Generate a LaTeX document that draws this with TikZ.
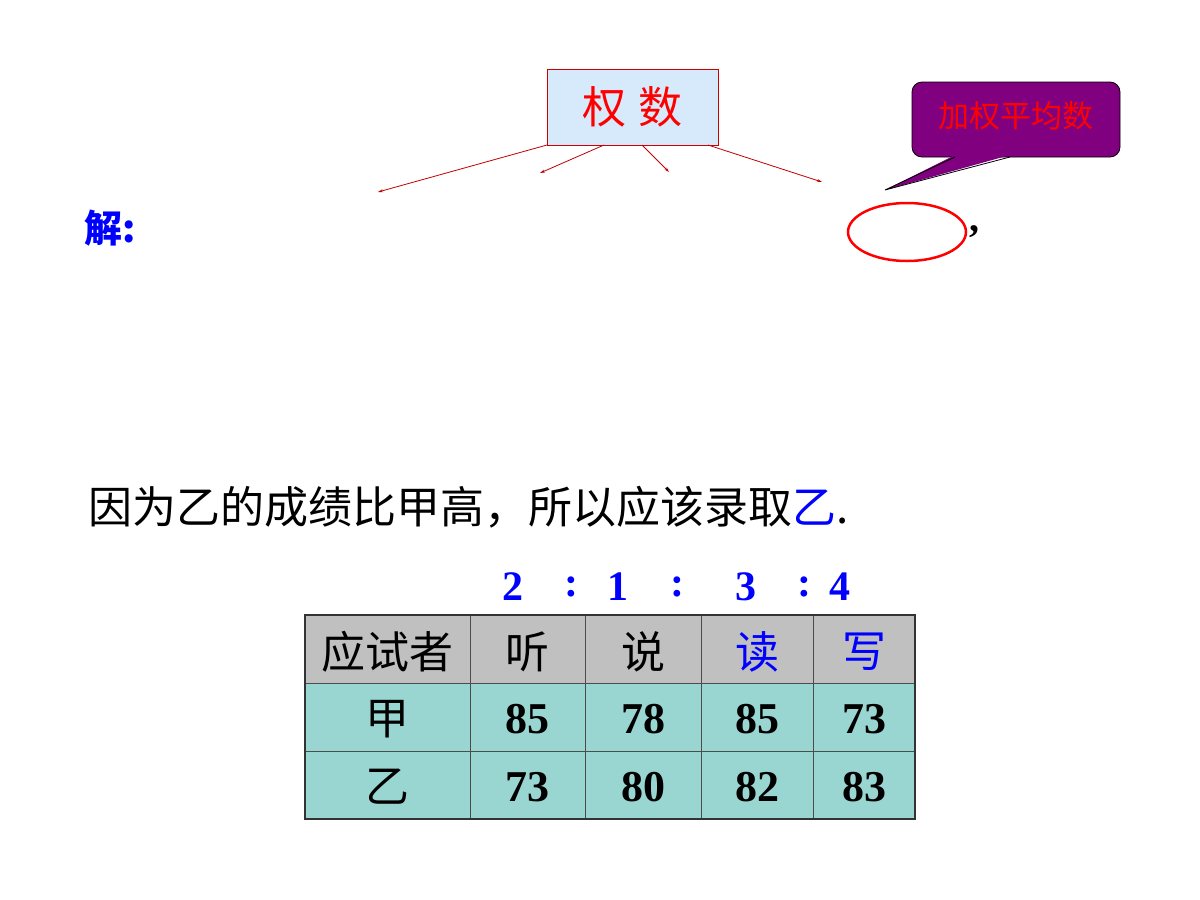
\documentclass[tikz,border=0pt]{standalone}
\usepackage{fontspec}
\setmainfont{Liberation Serif}
\newfontfamily\cjk{Noto Sans CJK SC}
\usetikzlibrary{arrows.meta,shapes.geometric}
\definecolor{hdr}{RGB}{192,192,192}
\definecolor{body}{RGB}{153,214,210}
\definecolor{lblue}{RGB}{214,234,251}
\definecolor{purp}{RGB}{128,0,128}
\begin{document}
\begin{tikzpicture}[x=1pt,y=-1pt,
  cell/.style={draw=black!70,line width=1pt},
  arr/.style={draw=red!75!black,line width=0.8pt,-{Stealth[length=5pt,width=3pt]}},
  cj/.style={font=\cjk\fontsize{44}{46}\selectfont},
  num/.style={font=\bfseries\fontsize{44}{46}\selectfont},
  rat/.style={font=\bfseries\fontsize{42}{44}\selectfont,text=blue}]
\useasboundingbox (0,0) rectangle (1200,900);
% title box
\node[draw=red!80!black,fill=lblue,minimum width=171pt,minimum height=76pt,inner sep=0pt,font=\cjk\fontsize{44}{46}\selectfont,text=red] (qs) at (632.5,107) {权\hspace{12pt}数};
\coordinate (a1) at (378,192);
\coordinate (a2) at (540,173);
\coordinate (a3) at (669,172);
\coordinate (a4) at (822,182);
\draw[arr] (547,145) -- (a1);
\draw[arr] (604,145) -- (a2);
\draw[arr] (642,145) -- (a3);
\draw[arr] (708,145) -- (a4);
% callout
\coordinate (tip) at (885,190);
\draw[fill=purp,draw=black,line width=0.8pt,rounded corners=10pt] (912,82) rectangle (1120,157);
\fill[purp] (955,155) -- (tip) -- (1010,155) -- cycle;
\draw[black,line width=0.8pt] (955,157) -- (tip) -- (1010,157);
\node[font=\cjk\fontsize{31}{33}\selectfont,text=red] (cl) at (1016,116) {加权平均数};
% ellipse
\node[draw=red,line width=2.5pt,ellipse,minimum width=118pt,minimum height=58pt] (el) at (907,232) {};
\node[font=\bfseries\fontsize{40}{42}\selectfont,anchor=west] (cm) at (966,232) {,};
% jie
\node[font=\cjk\bfseries\fontsize{38}{40}\selectfont,text=blue,anchor=west,inner sep=0pt] (jie) at (84,228) {解:};
% sentence
\node[font=\cjk\fontsize{44}{48}\selectfont,anchor=west,inner sep=0pt] (sen) at (88,507) {因为乙的成绩比甲高，所以应该录取{\color{blue}乙}.};
% ratio
\node[rat] (r1) at (513,587) {2};
\node[rat] (c1) at (571,587) {:};
\node[rat] (r2) at (618,587) {1};
\node[rat] (c2) at (677,587) {:};
\node[rat] (r3) at (746,587) {3};
\node[rat] (c3) at (804,587) {:};
\node[rat] (r4) at (840,587) {4};
% table
\fill[hdr] (305,615) rectangle (915,683);
\fill[body] (305,683) rectangle (915,819);
\foreach \x in {470,585,701,813} \draw[cell] (\x,615) -- (\x,819);
\foreach \y in {683,751} \draw[cell] (305,\y) -- (915,\y);
\draw[line width=2.5pt,black!80] (305,615) rectangle (915,819);
\node[cj] (h0) at (387.5,652) {应试者};
\node[cj] (h1) at (527.5,652) {听};
\node[cj] (h2) at (643,652) {说};
\node[cj,text=blue] (h3) at (757,652) {读};
\node[cj,text=blue] (h4) at (864,652) {写};
\node[cj] (j0) at (387.5,719) {甲};
\node[num] (j1) at (527.5,719) {85};
\node[num] (j2) at (643,719) {78};
\node[num] (j3) at (757,719) {85};
\node[num] (j4) at (864,719) {73};
\node[cj] (y0) at (387.5,787) {乙};
\node[num] (y1) at (527.5,787) {73};
\node[num] (y2) at (643,787) {80};
\node[num] (y3) at (757,787) {82};
\node[num] (y4) at (864,787) {83};
\end{tikzpicture}
\end{document}
